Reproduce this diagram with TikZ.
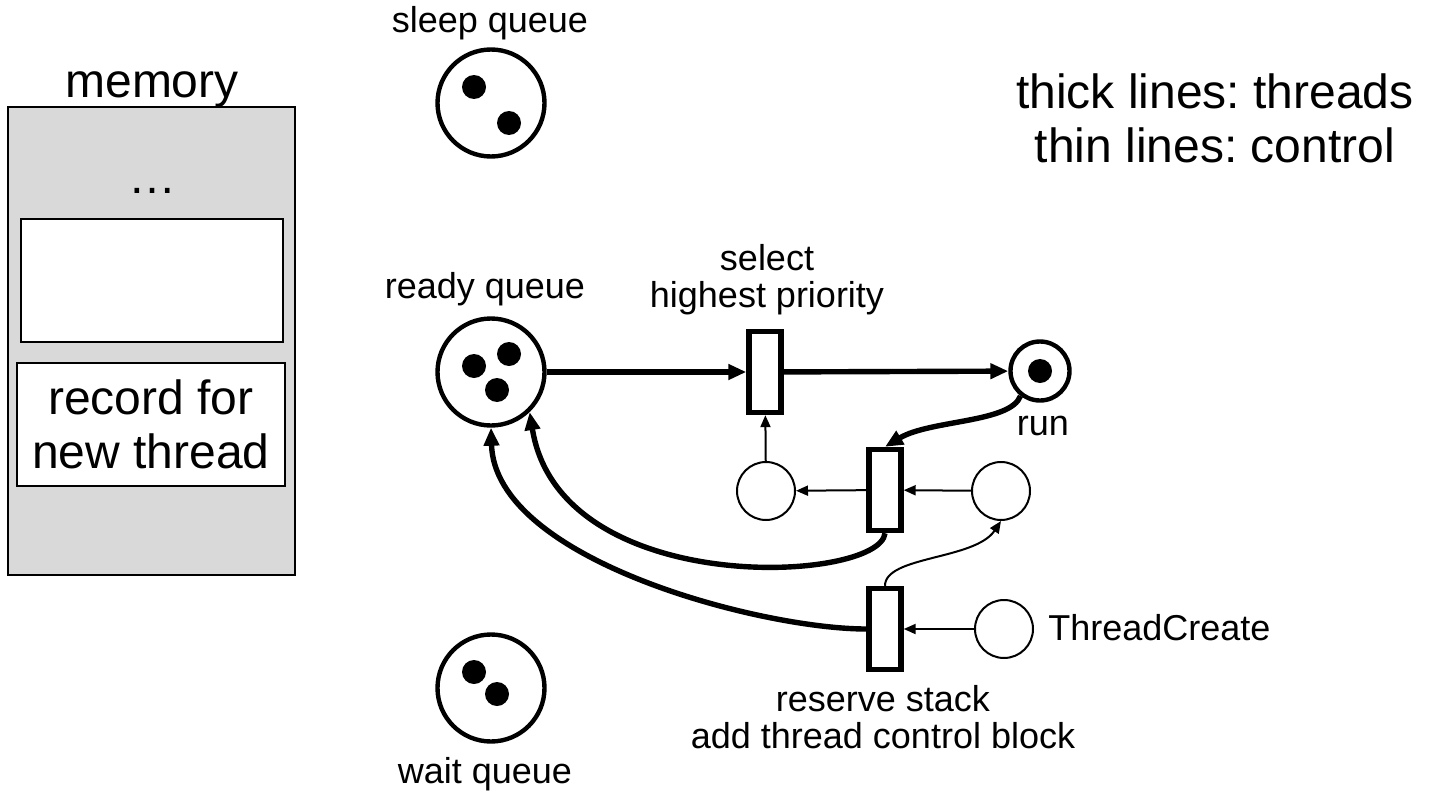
\documentclass[tikz,border=0pt]{standalone}
\usepackage{fontspec}
\setmainfont{Liberation Sans}
\frenchspacing
\usetikzlibrary{arrows.meta}

\tikzset{
  place/.style={draw, circle, line width=2.2pt, minimum size=53.5pt, inner sep=0pt, fill=white},
  ctrl/.style={draw, circle, line width=1pt, minimum size=29pt, inner sep=0pt},
  trans/.style={draw, rectangle, line width=2.7pt, minimum width=16pt, minimum height=40.5pt, inner sep=0pt, fill=white},
  thread/.style={line width=2.7pt, -{Triangle[length=9pt,width=7.5pt]}},
  control/.style={line width=1pt, -{Triangle[length=6pt,width=5pt]}},
  lbl/.style={font=\fontsize{18}{18.5}\selectfont, inner sep=0pt},
  big/.style={font=\fontsize{24}{27}\selectfont, inner sep=0pt},
}

\begin{document}
\begin{tikzpicture}[x=50pt, y=-50pt]
        \useasboundingbox (0,0) rectangle (14.36,7.92);

        % memory
        \node[draw, fill=black!15, line width=.7pt, minimum width=143.5pt, minimum height=234pt] at (1.515,3.41) (mem) {};
        \node[big, anchor=base] at (1.52,0.97) (memlbl) {memory};
        \node[big, anchor=base] at (1.52,1.93) (memdots) {…};
        \node[draw, fill=white, line width=.7pt, minimum width=131pt, minimum height=61.5pt] at (1.52,2.805) (slot) {};
        \node[draw, fill=white, line width=.7pt, minimum width=134pt, minimum height=61.5pt, big, align=center] at (1.51,4.245) (record) {record for\\new thread};

        % places
        \node[place] at (4.91,1.03) (sleep) {};
        \node[place] at (4.91,3.72) (ready) {};
        \node[place] at (4.91,6.88) (wait) {};
        \node[place, minimum size=29.5pt] at (10.40,3.71) (run) {};
        \node[ctrl] at (7.66,4.91) (ctrlL) {};
        \node[ctrl] at (10.01,4.91) (ctrlR) {};
        \node[ctrl] at (10.04,6.29) (tcreate) {};

        % tokens
        \fill (sleep) ++(-0.17,-0.16) circle (6pt);
        \fill (sleep) ++(0.18,0.20) circle (6pt);
        \fill (ready) ++(-0.17,-0.06) circle (6pt);
        \fill (ready) ++(0.18,-0.18) circle (6pt);
        \fill (ready) ++(0.06,0.18) circle (6pt);
        \fill (wait) ++(-0.17,-0.16) circle (6pt);
        \fill (wait) ++(0.06,0.06) circle (6pt);
        \fill (run) circle (6pt);

        % transitions
        \node[trans] at (7.65,3.72) (select) {};
        \node[trans] at (8.85,4.90) (switch) {};
        \node[trans] at (8.85,6.29) (create) {};

        % labels
        \node[lbl, anchor=base] at (4.90,0.32) (sleeplbl) {sleep queue};
        \node[lbl, anchor=base] at (4.85,2.98) (readylbl) {ready queue};
        \node[lbl, anchor=base] at (4.85,7.83) (waitlbl) {wait queue};
        \node[lbl, anchor=base, align=center] at (7.67,3.07) (selectlbl) {select\\highest priority};
        \node[lbl, anchor=base] at (10.43,4.35) (runlbl) {run};
        \node[lbl, anchor=base west] at (10.48,6.40) (tclbl) {ThreadCreate};
        \node[lbl, anchor=base, align=center] at (8.83,7.48) (createlbl) {reserve stack\\add thread control block};
        \node[big, anchor=base, align=center] at (12.15,1.62) (legend) {thick lines: threads\\thin lines: control};

        % threads
        \draw[thread] (ready) edge (select);
        \draw[thread] (select) edge (run);
        \draw[thread] (run.232) .. controls +(-0.1,0.27) and +(0.45,-0.27) .. (switch.north);
        \draw[thread] (switch.south) .. controls +(-0.05,0.5) and +(0.30,1.88) .. (ready.-46);
        \draw[thread] (create.west) .. controls +(-1.06,0) and +(0.04,1.32) .. (ready.south);

        % control
        \draw[control] (ctrlL) edge (select);
        \draw[control] (switch) edge (ctrlL);
        \draw[control] (ctrlR) edge (switch);
        \draw[control] (tcreate) edge (create);
        \draw[control] (create.north) .. controls +(0,-0.3) and +(-0.26,0.39) .. (ctrlR.south);
      \end{tikzpicture}
\end{document}
